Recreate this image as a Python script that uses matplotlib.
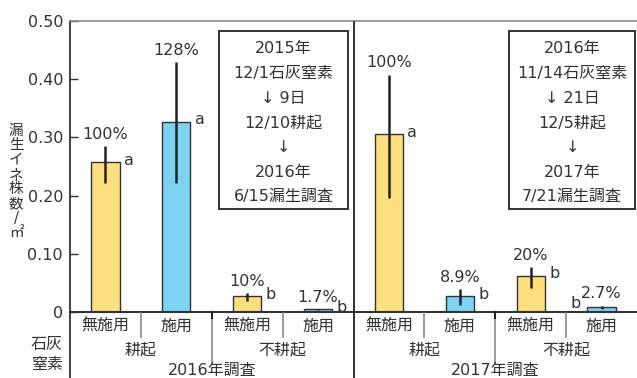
import matplotlib
matplotlib.use("Agg")
import matplotlib.pyplot as plt
from matplotlib.patches import Rectangle
from matplotlib.lines import Line2D
import matplotlib.transforms as mtransforms

plt.rcParams['font.family'] = ['DejaVu Sans', 'Noto Sans CJK JP']

# --- data -------------------------------------------------------------
treatments = ["無施用", "施用", "無施用", "施用", "無施用", "施用", "無施用", "施用"]
tillage = ["耕起", "不耕起", "耕起", "不耕起"]
surveys = ["2016年調査", "2017年調査"]
values = [0.257, 0.327, 0.027, 0.0045, 0.305, 0.027, 0.062, 0.0083]
err_low = [0.221, 0.221, 0.019, 0.004, 0.196, 0.012, 0.041, 0.006]
err_high = [0.285, 0.430, 0.033, 0.005, 0.408, 0.039, 0.077, 0.011]
pct_labels = ["100%", "128%", "10%", "1.7%", "100%", "8.9%", "20%", "2.7%"]
sig_letters = ["a", "a", "b", "b", "a", "b", "b", "b"]
y_ticks = [0, 0.10, 0.20, 0.30, 0.40, 0.50]
y_ticklabels = ["0", "0.10", "0.20", "0.30", "0.40", "0.50"]
schedule_2016 = ["2015年", "12/1石灰窒素", "↓ 9日", "12/10耕起", "↓", "2016年", "6/15漏生調査"]
schedule_2017 = ["2016年", "11/14石灰窒素", "↓ 21日", "12/5耕起", "↓", "2017年", "7/21漏生調査"]
ylabel_chars = ["漏", "生", "イ", "ネ", "株", "数", "/", "㎡"]

YELLOW = "#fddf7e"
BLUE = "#7dd3f4"
TXT = "#333333"
FS = 11.5
W, H = 637, 378

fig = plt.figure(figsize=(W / 100, H / 100), dpi=100)
ax = fig.add_axes([70 / W, (H - 312) / H, (W - 70) / W, (312 - 21) / H])

x = list(range(len(values)))
colors = [YELLOW if t == "無施用" else BLUE for t in treatments]
ax.bar(x, values, width=0.4, color=colors, edgecolor="#333333", linewidth=1.0, zorder=2)
yerr = [[v - lo for v, lo in zip(values, err_low)], [hi - v for v, hi in zip(values, err_high)]]
ax.errorbar(x, values, yerr=yerr, fmt="none", ecolor="#222222", elinewidth=1.8, capsize=0, zorder=3)

ax.set_xlim(-0.5, 7.5)
ax.set_ylim(0, 0.5)
ax.set_yticks(y_ticks)
ax.set_yticklabels(y_ticklabels, fontsize=FS, color=TXT)
ax.tick_params(axis="y", direction="in", length=6, width=1.0, color="#333333", pad=5)
ax.set_xticks([])
ax.spines["right"].set_visible(False)
ax.spines["top"].set_color("#8a8a8a")
ax.spines["top"].set_linewidth(1.2)
ax.spines["left"].set_color("#222222")
ax.spines["left"].set_linewidth(1.2)
ax.spines["bottom"].set_color("#333333")
ax.spines["bottom"].set_linewidth(1.5)

# value and significance labels
for i, (v, hi, p, s) in enumerate(zip(values, err_high, pct_labels, sig_letters)):
    top = max(v, hi)
    ax.annotate(p, (i, top), xytext=(0, 3), textcoords="offset points",
                ha="center", va="bottom", fontsize=FS, color=TXT)
    if i == 7:
        ax.annotate(s, (i - 0.2, v), xytext=(-5, -3), textcoords="offset points",
                    ha="right", va="bottom", fontsize=FS, color=TXT)
    else:
        ax.annotate(s, (i + 0.2, v), xytext=(3, -4), textcoords="offset points",
                    ha="left", va="bottom", fontsize=FS, color=TXT)

# category labels and separators below the axis
bt = mtransforms.blended_transform_factory(ax.transData, fig.transFigure)
def fy(py):
    return 1 - py / H

for i, t in enumerate(treatments):
    fig.text(i, fy(326), t, transform=bt, ha="center", va="center", fontsize=FS, color=TXT)
for j, t in enumerate(tillage):
    fig.text(2 * j + 0.5, fy(350), t, transform=bt, ha="center", va="center", fontsize=FS, color=TXT)
for k, t in enumerate(surveys):
    fig.text(4 * k + 1.5, fy(370), t, transform=bt, ha="center", va="center", fontsize=FS, color=TXT)

for b in [0.5, 2.5, 4.5, 6.5]:
    fig.add_artist(Line2D([b, b], [fy(313), fy(337)], transform=bt, color="#8a8a8a", lw=1.2))
for b in [1.5, 5.5]:
    fig.add_artist(Line2D([b, b], [fy(313), fy(362)], transform=bt, color="#8a8a8a", lw=1.2))
    fig.add_artist(Line2D([b, b], [fy(312), fy(318)], transform=bt, color="#222222", lw=1.5))
fig.add_artist(Line2D([3.5, 3.5], [fy(22), fy(378)], transform=bt, color="#222222", lw=1.3))
fig.add_artist(Line2D([70 / W, 70 / W], [fy(312), 0], transform=fig.transFigure, color="#222222", lw=1.2))

fig.text(47 / W, fy(345), "石灰", ha="center", va="center", fontsize=FS, color=TXT)
fig.text(47 / W, fy(364), "窒素", ha="center", va="center", fontsize=FS, color=TXT)

# vertical axis title, one character per row
for n, ch in enumerate(ylabel_chars):
    fig.text(16 / W, fy(130 + 14.7 * n), ch, ha="center", va="center", fontsize=10.5, color=TXT)

# schedule boxes
def schedule_box(x0, x1, ytop, ybot, lines):
    fig.add_artist(Rectangle((x0 / W, fy(ybot)), (x1 - x0) / W, (ybot - ytop) / H,
                             transform=fig.transFigure, fill=False, ec="#222222", lw=1.3))
    cx = (x0 + x1) / 2 / W
    for n, line in enumerate(lines):
        fig.text(cx, fy(ytop + 18 + 24.6 * n), line, ha="center", va="center", fontsize=FS, color=TXT)

schedule_box(219, 348, 31, 209, schedule_2016)
schedule_box(509, 635, 31, 209, schedule_2017)

fig.savefig("out.png", dpi=100)
